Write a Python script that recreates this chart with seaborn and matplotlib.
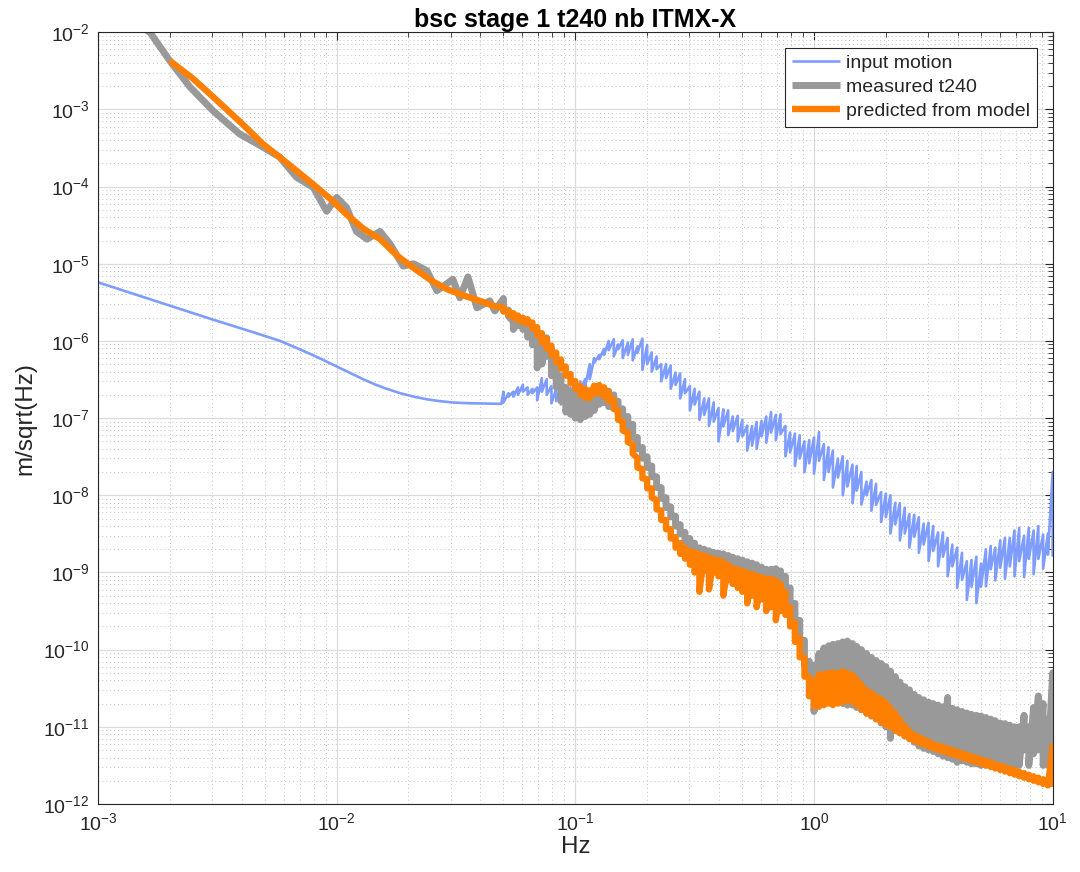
import numpy as np
import pandas as pd
import matplotlib
matplotlib.use("Agg")
import matplotlib.pyplot as plt
import seaborn as sns
from matplotlib.ticker import FixedLocator, NullFormatter, LogFormatterSciNotation

# ---------------- data ----------------
# low-frequency parts
blue_lf_f = [0.001, 0.0016, 0.003, 0.0045, 0.0058, 0.007, 0.008, 0.009, 0.01, 0.0115,
             0.013, 0.0145, 0.016, 0.0185, 0.021, 0.024, 0.027, 0.031, 0.036, 0.049]
blue_lf_a = [5.75e-6, 3.59e-6, 1.91e-6, 1.29e-6, 1.0e-6, 7.8e-7, 6.5e-7, 5.47e-7, 4.67e-7, 3.78e-7,
             3.16e-7, 2.73e-7, 2.43e-7, 2.1e-7, 1.9e-7, 1.75e-7, 1.66e-7, 1.59e-7, 1.56e-7, 1.53e-7]

gray_lf_f = [0.0015, 0.00165, 0.002, 0.00243, 0.00304, 0.00393, 0.00492, 0.00578, 0.00679, 0.00798,
             0.00908, 0.01, 0.011, 0.0121, 0.0134, 0.0145, 0.0152, 0.0168, 0.019, 0.021,
             0.0239, 0.0263, 0.0307, 0.0328, 0.0355, 0.0387, 0.0438, 0.046]
gray_lf_a = [1.2e-2, 1.0e-2, 4.27e-3, 1.95e-3, 9.55e-4, 4.79e-4, 3.24e-4, 2.4e-4, 1.32e-4, 9.77e-5,
             4.79e-5, 7.24e-5, 5.37e-5, 2.63e-5, 2.09e-5, 2.4e-5, 2.63e-5, 1.78e-5, 9.33e-6, 1.0e-5,
             8.13e-6, 4.47e-6, 6.31e-6, 3.63e-6, 6.76e-6, 2.69e-6, 3.31e-6, 2.45e-6]

orange_lf_f = [0.002, 0.0025, 0.00304, 0.004, 0.00492, 0.006, 0.00798, 0.0095, 0.011, 0.013,
               0.0152, 0.018, 0.0209, 0.025, 0.029, 0.034, 0.0398, 0.046]
orange_lf_a = [4.27e-3, 2.51e-3, 1.45e-3, 6.61e-4, 3.55e-4, 2.19e-4, 1.07e-4, 6.76e-5, 4.37e-5, 2.82e-5,
               2.09e-5, 1.26e-5, 8.91e-6, 6.03e-6, 4.68e-6, 3.89e-6, 3.31e-6, 2.82e-6]

# high-frequency (noisy) parts: shared frequency bins, upper / lower excursions
freq_hf = [0.05, 0.0525, 0.055, 0.0575, 0.0603, 0.0631, 0.0661, 0.0692, 0.0724, 0.0759,
           0.0794, 0.0832, 0.0871, 0.0912, 0.0955, 0.1, 0.105, 0.11, 0.115, 0.12,
           0.126, 0.132, 0.138, 0.145, 0.151, 0.158, 0.166, 0.174, 0.182, 0.191,
           0.2, 0.209, 0.219, 0.229, 0.24, 0.251, 0.263, 0.275, 0.288, 0.302,
           0.316, 0.331, 0.347, 0.363, 0.38, 0.398, 0.417, 0.437, 0.457, 0.479,
           0.501, 0.525, 0.55, 0.575, 0.603, 0.631, 0.661, 0.692, 0.724, 0.759,
           0.794, 0.832, 0.871, 0.912, 0.955, 1.0, 1.05, 1.1, 1.15, 1.2,
           1.26, 1.32, 1.38, 1.45, 1.51, 1.58, 1.66, 1.74, 1.82, 1.91,
           2.0, 2.09, 2.19, 2.29, 2.4, 2.51, 2.63, 2.75, 2.88, 3.02,
           3.16, 3.31, 3.47, 3.63, 3.8, 3.98, 4.17, 4.37, 4.57, 4.79,
           5.01, 5.25, 5.5, 5.75, 6.03, 6.31, 6.61, 6.92, 7.24, 7.59,
           7.94, 8.32, 8.71, 9.12, 9.55, 10.0]

blue_hi = [2.2e-7, 2.1e-7, 2.2e-7, 2.5e-7, 2.7e-7, 2.5e-7, 2.4e-7, 2.5e-7, 3.3e-7, 3.2e-7,
           2.6e-7, 2.4e-7, 2.5e-7, 2.4e-7, 2.5e-7, 2.75e-7, 3.0e-7, 3.2e-7, 5.0e-7, 6.0e-7,
           6.6e-7, 7.9e-7, 1.0e-6, 1.05e-6, 9.0e-7, 1.02e-6, 9.5e-7, 1.05e-6, 8.5e-7, 1.07e-6,
           8.9e-7, 7.1e-7, 6.3e-7, 5.0e-7, 5.0e-7, 4.8e-7, 3.9e-7, 3.8e-7, 3.2e-7, 2.6e-7,
           2.4e-7, 2.2e-7, 1.8e-7, 1.8e-7, 1.6e-7, 1.35e-7, 1.3e-7, 1.26e-7, 1.05e-7, 1.07e-7,
           9.5e-8, 8.0e-8, 7.9e-8, 8.9e-8, 9.2e-8, 1.05e-7, 1.2e-7, 1.1e-7, 1.12e-7, 7.9e-8,
           6.5e-8, 6.3e-8, 6.0e-8, 5.0e-8, 5.2e-8, 5.6e-8, 6.6e-8, 4.6e-8, 4.2e-8, 3.8e-8,
           3.0e-8, 3.2e-8, 2.8e-8, 2.5e-8, 2.4e-8, 2.0e-8, 1.5e-8, 1.58e-8, 1.41e-8, 1.1e-8,
           1.05e-8, 1.0e-8, 8.0e-9, 7.9e-9, 6.9e-9, 5.7e-9, 5.6e-9, 5.2e-9, 4.3e-9, 4.4e-9,
           4.0e-9, 3.3e-9, 3.3e-9, 2.8e-9, 2.3e-9, 2.1e-9, 1.8e-9, 1.4e-9, 1.45e-9, 1.6e-9,
           1.3e-9, 2.0e-9, 2.2e-9, 2.1e-9, 2.6e-9, 2.8e-9, 2.8e-9, 3.5e-9, 3.8e-9, 3.0e-9,
           3.8e-9, 3.5e-9, 4.0e-9, 3.1e-9, 3.2e-9, 2.0e-8]
blue_lo = [1.6e-7, 1.9e-7, 1.9e-7, 2.0e-7, 2.2e-7, 2.0e-7, 2.1e-7, 1.7e-7, 2.2e-7, 2.0e-7,
           1.55e-7, 1.66e-7, 1.5e-7, 1.78e-7, 1.9e-7, 2.0e-7, 2.4e-7, 2.6e-7, 3.2e-7, 5.2e-7,
           5.8e-7, 6.6e-7, 7.6e-7, 6.3e-7, 7.8e-7, 6.0e-7, 6.6e-7, 5.6e-7, 7.0e-7, 4.2e-7,
           5.0e-7, 4.0e-7, 4.3e-7, 3.0e-7, 3.3e-7, 2.4e-7, 2.7e-7, 1.8e-7, 2.1e-7, 1.26e-7,
           1.5e-7, 9.5e-8, 1.1e-7, 7.9e-8, 9.0e-8, 5.0e-8, 7.8e-8, 6.0e-8, 6.8e-8, 5.0e-8,
           5.8e-8, 3.8e-8, 4.4e-8, 4.0e-8, 5.8e-8, 4.8e-8, 6.5e-8, 5.2e-8, 6.2e-8, 3.2e-8,
           3.6e-8, 2.4e-8, 3.0e-8, 2.0e-8, 2.6e-8, 1.9e-8, 2.8e-8, 1.58e-8, 2.0e-8, 1.26e-8,
           1.7e-8, 1.0e-8, 1.3e-8, 7.9e-9, 1.15e-8, 7.6e-9, 1.0e-8, 6.3e-9, 7.5e-9, 4.5e-9,
           5.2e-9, 3.2e-9, 4.2e-9, 2.6e-9, 3.2e-9, 2.1e-9, 2.9e-9, 1.8e-9, 2.3e-9, 1.41e-9,
           1.9e-9, 1.2e-9, 1.6e-9, 8.9e-10, 1.2e-9, 6.3e-10, 8.0e-10, 4.4e-10, 6.5e-10, 4.0e-10,
           6.5e-10, 6.6e-10, 1.1e-9, 7.9e-10, 1.15e-9, 8.3e-10, 1.2e-9, 8.9e-10, 1.4e-9, 8.7e-10,
           1.5e-9, 9.5e-10, 1.5e-9, 1.12e-9, 1.7e-9, 1.6e-9]

gray_hi = [3.55e-6, 2.51e-6, 1.78e-6, 1.91e-6, 1.82e-6, 1.66e-6, 1.41e-6, 1.12e-6, 1.1e-6, 1.1e-6,
           7.94e-7, 4.47e-7, 3.55e-7, 2.51e-7, 2.24e-7, 2.4e-7, 2.24e-7, 2.24e-7, 2.09e-7, 2.4e-7,
           2.51e-7, 2.4e-7, 2.24e-7, 2.0e-7, 1.66e-7, 1.32e-7, 1.05e-7, 8.32e-8, 5.62e-8, 4.17e-8,
           3.16e-8, 2.4e-8, 1.74e-8, 1.26e-8, 9.33e-9, 7.08e-9, 5.37e-9, 4.17e-9, 3.31e-9, 2.75e-9,
           2.4e-9, 2.09e-9, 2.0e-9, 1.91e-9, 1.82e-9, 1.78e-9, 1.74e-9, 1.66e-9, 1.58e-9, 1.51e-9,
           1.45e-9, 1.38e-9, 1.32e-9, 1.26e-9, 1.17e-9, 1.1e-9, 1.1e-9, 1.12e-9, 1.05e-9, 8.91e-10,
           6.31e-10, 3.98e-10, 2.4e-10, 1.32e-10, 7.08e-11, 6.31e-11, 8.91e-11, 1.05e-10, 1.12e-10, 1.17e-10,
           1.2e-10, 1.26e-10, 1.29e-10, 1.2e-10, 1.1e-10, 1.0e-10, 8.91e-11, 7.94e-11, 7.24e-11, 6.61e-11,
           6.03e-11, 5.25e-11, 4.47e-11, 3.8e-11, 3.31e-11, 3.02e-11, 2.63e-11, 2.4e-11, 2.24e-11, 2.09e-11,
           2.0e-11, 1.91e-11, 1.82e-11, 2.4e-11, 1.74e-11, 1.66e-11, 1.58e-11, 1.51e-11, 1.45e-11, 1.41e-11,
           1.38e-11, 1.32e-11, 1.26e-11, 1.2e-11, 1.12e-11, 1.1e-11, 1.05e-11, 1.0e-11, 1.0e-11, 1.41e-11,
           1.0e-11, 1.78e-11, 2.51e-11, 2.0e-11, 1.26e-11, 5.01e-11]
gray_lo = [2.51e-6, 2.09e-6, 1.41e-6, 1.58e-6, 1.41e-6, 1.12e-6, 8.91e-7, 4.47e-7, 5.01e-7, 6.31e-7,
           3.55e-7, 2.51e-7, 1.66e-7, 1.2e-7, 1.12e-7, 1.0e-7, 9.55e-8, 1.05e-7, 1.12e-7, 1.26e-7,
           1.51e-7, 1.58e-7, 1.41e-7, 1.32e-7, 1.12e-7, 8.91e-8, 7.08e-8, 5.62e-8, 3.98e-8, 3.02e-8,
           2.29e-8, 1.74e-8, 1.26e-8, 9.12e-9, 6.92e-9, 5.25e-9, 3.98e-9, 3.16e-9, 2.51e-9, 2.0e-9,
           1.78e-9, 1.58e-9, 1.41e-9, 1.26e-9, 1.2e-9, 1.12e-9, 1.0e-9, 9.55e-10, 8.91e-10, 8.32e-10,
           7.94e-10, 7.59e-10, 7.08e-10, 6.61e-10, 6.31e-10, 6.03e-10, 6.03e-10, 6.31e-10, 5.62e-10, 4.47e-10,
           3.16e-10, 2.0e-10, 1.26e-10, 6.31e-11, 2.51e-11, 1.58e-11, 2.51e-11, 2.82e-11, 2.51e-11, 2.24e-11,
           2.09e-11, 2.0e-11, 1.91e-11, 1.91e-11, 1.78e-11, 1.66e-11, 1.51e-11, 1.38e-11, 1.26e-11, 1.12e-11,
           1.0e-11, 7.08e-12, 8.91e-12, 8.32e-12, 7.59e-12, 7.08e-12, 6.31e-12, 5.62e-12, 5.25e-12, 5.01e-12,
           4.79e-12, 4.47e-12, 4.17e-12, 3.98e-12, 3.8e-12, 3.47e-12, 3.63e-12, 3.47e-12, 3.31e-12, 3.31e-12,
           3.16e-12, 3.16e-12, 3.16e-12, 3.02e-12, 3.02e-12, 3.16e-12, 3.02e-12, 3.02e-12, 3.16e-12, 5.01e-12,
           3.16e-12, 4.47e-12, 5.01e-12, 3.16e-12, 3.16e-12, 3.98e-12]

orange_hi = [2.69e-6, 2.45e-6, 2.29e-6, 2.14e-6, 2.0e-6, 1.91e-6, 1.74e-6, 1.51e-6, 1.26e-6, 1.07e-6,
             8.71e-7, 7.08e-7, 5.75e-7, 4.68e-7, 3.72e-7, 3.02e-7, 2.63e-7, 2.4e-7, 2.29e-7, 2.63e-7,
             2.69e-7, 2.51e-7, 2.19e-7, 1.74e-7, 1.26e-7, 9.12e-8, 6.46e-8, 4.57e-8, 3.02e-8, 2.19e-8,
             1.62e-8, 1.23e-8, 8.71e-9, 6.31e-9, 4.79e-9, 3.63e-9, 2.88e-9, 2.4e-9, 2.09e-9, 1.91e-9,
             1.82e-9, 1.74e-9, 1.66e-9, 1.58e-9, 1.51e-9, 1.45e-9, 1.38e-9, 1.26e-9, 1.15e-9, 1.1e-9,
             1.05e-9, 1.0e-9, 9.55e-10, 9.12e-10, 8.71e-10, 8.32e-10, 8.32e-10, 7.94e-10, 7.08e-10, 5.62e-10,
             3.55e-10, 2.24e-10, 1.41e-10, 7.94e-11, 4.47e-11, 3.98e-11, 4.79e-11, 4.79e-11, 5.01e-11, 5.01e-11,
             5.01e-11, 5.25e-11, 5.01e-11, 4.68e-11, 4.17e-11, 3.55e-11, 3.02e-11, 2.75e-11, 2.51e-11, 2.29e-11,
             2.09e-11, 1.78e-11, 1.51e-11, 1.26e-11, 1.05e-11, 8.91e-12, 7.94e-12, 7.41e-12, 6.92e-12, 6.46e-12,
             6.03e-12, 5.75e-12, 5.5e-12, 5.25e-12, 5.01e-12, 4.79e-12, 4.57e-12, 4.37e-12, 4.17e-12, 3.98e-12,
             3.8e-12, 3.63e-12, 3.47e-12, 3.31e-12, 3.16e-12, 3.02e-12, 2.88e-12, 2.75e-12, 2.63e-12, 2.51e-12,
             2.4e-12, 2.29e-12, 2.19e-12, 2.09e-12, 2.0e-12, 5.62e-12]
orange_lo = [2.4e-6, 2.19e-6, 2.0e-6, 1.86e-6, 1.74e-6, 1.66e-6, 1.45e-6, 1.2e-6, 9.55e-7, 7.94e-7,
             6.61e-7, 5.25e-7, 4.37e-7, 3.55e-7, 2.82e-7, 2.4e-7, 2.0e-7, 1.82e-7, 1.82e-7, 2.09e-7,
             2.09e-7, 1.91e-7, 1.66e-7, 1.32e-7, 9.55e-8, 6.92e-8, 4.9e-8, 3.47e-8, 2.29e-8, 1.66e-8,
             1.23e-8, 9.33e-9, 6.61e-9, 4.79e-9, 3.63e-9, 2.75e-9, 2.09e-9, 1.74e-9, 1.51e-9, 1.26e-9,
             1.0e-9, 5.62e-10, 1.05e-9, 6.03e-10, 1.0e-9, 8.91e-10, 5.01e-10, 7.94e-10, 7.08e-10, 6.31e-10,
             5.62e-10, 3.98e-10, 5.01e-10, 3.55e-10, 4.47e-10, 3.16e-10, 3.55e-10, 2.4e-10, 3.16e-10, 2.82e-10,
             2.0e-10, 1.26e-10, 7.94e-11, 4.47e-11, 2.51e-11, 1.82e-11, 1.82e-11, 1.91e-11, 2.0e-11, 1.91e-11,
             2.0e-11, 2.09e-11, 2.19e-11, 2.09e-11, 1.91e-11, 1.66e-11, 1.48e-11, 1.38e-11, 1.26e-11, 1.15e-11,
             1.05e-11, 1.0e-11, 8.91e-12, 8.32e-12, 7.59e-12, 6.92e-12, 6.61e-12, 6.17e-12, 5.89e-12, 5.5e-12,
             5.25e-12, 5.01e-12, 4.79e-12, 4.57e-12, 4.37e-12, 4.17e-12, 3.98e-12, 3.8e-12, 3.63e-12, 3.47e-12,
             3.31e-12, 3.16e-12, 3.02e-12, 2.88e-12, 2.75e-12, 2.63e-12, 2.51e-12, 2.4e-12, 2.29e-12, 2.19e-12,
             2.09e-12, 2.0e-12, 1.91e-12, 1.82e-12, 1.74e-12, 1.66e-12]

series_labels = ["input motion", "measured t240", "predicted from model"]
title_text = "bsc stage 1 t240 nb ITMX-X"
x_label = "Hz"
y_label = "m/sqrt(Hz)"
x_decades = [1e-3, 1e-2, 1e-1, 1e0, 1e1]
y_decades = [1e-12, 1e-11, 1e-10, 1e-9, 1e-8, 1e-7, 1e-6, 1e-5, 1e-4, 1e-3, 1e-2]


def build(lf_f, lf_a, hi, lo):
    """Low-frequency trace followed by the noisy trace (upper then lower value per bin)."""
    f = list(lf_f) + list(np.repeat(np.asarray(freq_hf, float), 2))
    a = list(lf_a) + list(np.column_stack([hi, lo]).ravel())
    return pd.DataFrame({"f": f, "a": a})


df_blue = build(blue_lf_f, blue_lf_a, blue_hi, blue_lo)
df_gray = build(gray_lf_f, gray_lf_a, gray_hi, gray_lo)
df_orange = build(orange_lf_f, orange_lf_a, orange_hi, orange_lo)

# ---------------- style ----------------
sns.set_theme(style="white")
plt.rcParams['font.family'] = ['Liberation Sans', 'DejaVu Sans']
plt.rcParams['mathtext.default'] = 'regular'

fig = plt.figure(figsize=(10.8, 8.72), dpi=100)
ax = fig.add_axes([0.0907, 0.078, 0.884, 0.885])

common = dict(x="f", y="a", sort=False, estimator=None, ax=ax,
              solid_joinstyle="round", solid_capstyle="butt")
sns.lineplot(data=df_blue, color="#7f9dff", linewidth=1.9, label=series_labels[0], **common)
sns.lineplot(data=df_gray, color="#999999", linewidth=5.0, label=series_labels[1], **common)
sns.lineplot(data=df_orange, color="#ff8000", linewidth=4.6, label=series_labels[2], **common)

ax.set_xscale("log")
ax.set_yscale("log")
ax.set_xlim(x_decades[0], x_decades[-1])
ax.set_ylim(y_decades[0], y_decades[-1])

x_minor = [d * m for d in x_decades[:-1] for m in range(2, 10)]
y_minor = [d * m for d in y_decades[:-1] for m in range(2, 10)]
ax.xaxis.set_major_locator(FixedLocator(x_decades))
ax.yaxis.set_major_locator(FixedLocator(y_decades))
ax.xaxis.set_minor_locator(FixedLocator(x_minor))
ax.yaxis.set_minor_locator(FixedLocator(y_minor))
ax.xaxis.set_minor_formatter(NullFormatter())
ax.yaxis.set_minor_formatter(NullFormatter())
ax.xaxis.set_major_formatter(LogFormatterSciNotation())
ax.yaxis.set_major_formatter(LogFormatterSciNotation())

ax.set_axisbelow(True)
ax.grid(True, which="major", color="#dcdcdc", linewidth=0.9, linestyle="-")
ax.grid(True, which="minor", color="#c4c4c4", linewidth=0.7, linestyle=(0, (1, 3)))

for sp in ax.spines.values():
    sp.set_visible(True)
    sp.set_color("#262626")
    sp.set_linewidth(0.8)

ax.tick_params(which="both", direction="in", top=True, right=True,
               color="#262626", labelcolor="#262626", labelsize=14)
ax.tick_params(which="major", length=6, width=0.8, pad=6)
ax.tick_params(which="minor", length=3.5, width=0.6)

ax.set_title(title_text, fontsize=18, fontweight="bold", color="#000000", pad=4)
ax.set_xlabel(x_label, fontsize=17.5, color="#262626", labelpad=1)
ax.set_ylabel(y_label, fontsize=17.5, color="#262626", labelpad=5)

leg = ax.legend(loc="upper right", fontsize=14, frameon=True, fancybox=False,
                edgecolor="#262626", framealpha=1, borderaxespad=0.8,
                handlelength=2.5, handletextpad=0.3, labelspacing=0.32, borderpad=0.35)
leg.get_frame().set_linewidth(0.8)

fig.savefig("out.png", dpi=100)
